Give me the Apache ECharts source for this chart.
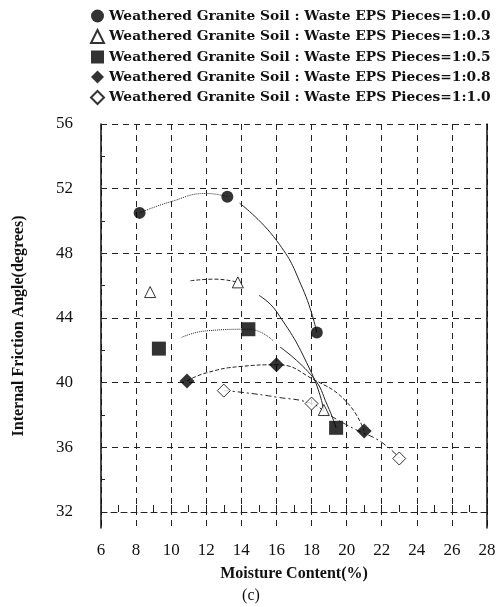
<!DOCTYPE html>
<html>
<head>
<meta charset="utf-8">
<script src="https://cdn.jsdelivr.net/npm/echarts@6/dist/echarts.min.js"></script>
<style>
  html, body { margin: 0; padding: 0; background: #fff; }
  #chart { width: 502px; height: 607px; }
</style>
</head>
<body>
<div id="chart"></div>
<script>
var names = [
    'Weathered Granite Soil : Waste EPS Pieces=1:0.0',
    'Weathered Granite Soil : Waste EPS Pieces=1:0.3',
    'Weathered Granite Soil : Waste EPS Pieces=1:0.5',
    'Weathered Granite Soil : Waste EPS Pieces=1:0.8',
    'Weathered Granite Soil : Waste EPS Pieces=1:1.0'
];
// measured points [moisture %, friction angle]
var pts00 = [[8.2, 50.5], [13.2, 51.5], [18.3, 43.1]];
var pts03 = [[8.8, 45.6], [13.8, 46.2], [18.7, 38.3]];
var pts05 = [[9.3, 42.1], [14.4, 43.3], [19.4, 37.2]];
var pts08 = [[10.9, 40.1], [16.0, 41.1], [21.0, 37.0]];
var pts10 = [[13.0, 39.5], [18.0, 38.7], [23.0, 35.3]];
// fitted curves
var fit00a = [[8.2, 50.5], [10, 51.2], [12, 51.7], [13.2, 51.5]];
var fit00b = [[13.9, 51.1], [16, 48.8], [17.5, 45.8], [18.3, 43.1]];
var fit03a = [[11.1, 46.3], [12.5, 46.4], [13.8, 46.2]];
var fit03b = [[15.0, 45.4], [16, 44.4], [18, 40.6], [18.7, 38.3]];
var fit05a = [[10.6, 42.8], [12, 43.2], [14.4, 43.3], [15.8, 42.6]];
var fit05b = [[16.2, 42.2], [18.1, 40.3], [18.9, 38.6], [19.4, 37.2]];
var fit08 = [[10.9, 40.1], [12, 40.6], [14, 41.0], [16, 41.1], [18.1, 40.2], [20.0, 38.8], [21.0, 37.0]];
var fit10 = [[13.0, 39.5], [14, 39.4], [16, 39.1], [18, 38.7], [19, 38.0], [20.5, 37.1], [22, 36.3], [23.2, 35.1]];
var yLabels = [32, 36, 40, 44, 48, 52, 56];
var yMinor = [34, 38, 42, 46, 50, 54];
var hGrid = [36, 40, 44, 48, 52, 56];

var serif = 'Liberation Serif';
var myChart = echarts.init(document.getElementById('chart'));

function fit(data, type) {
    return {
        type: 'line', data: data, smooth: true, showSymbol: false, silent: true,
        lineStyle: {color: '#222', width: 1, type: type}, z: 2
    };
}
function pts(name, data, symbol, size, filled) {
    return {
        name: name, type: 'scatter', data: data, symbol: symbol, symbolSize: size, z: 5,
        itemStyle: filled ? {color: '#000'} : {color: '#fff', borderColor: '#000', borderWidth: 1}
    };
}

var option = {
    animation: false,
    textStyle: {fontFamily: serif},
    grid: {left: 101, right: 15, top: 124, bottom: 79},
    legend: {
        orient: 'vertical', left: 85, top: 4, itemGap: 6, itemWidth: 13, itemHeight: 13,
        data: [
            {name: names[0], icon: 'circle'},
            {name: names[1], icon: 'triangle'},
            {name: names[2], icon: 'rect'},
            {name: names[3], icon: 'diamond'},
            {name: names[4], icon: 'diamond'}
        ],
        textStyle: {fontFamily: 'DejaVu Serif', fontSize: 13.8, lineHeight: 14, fontWeight: 'bold', color: '#111'}
    },
    xAxis: [{
        type: 'value', min: 6, max: 28, interval: 2,
        name: 'Moisture Content(%)', nameLocation: 'middle', nameGap: 38,
        nameTextStyle: {fontFamily: serif, fontSize: 16, fontWeight: 'bold', color: '#111'},
        axisLine: {show: false}, axisTick: {show: false},
        axisLabel: {fontSize: 17, color: '#111', margin: 14},
        splitLine: {show: true, lineStyle: {color: '#222', type: [6, 5], width: 1}}
    }, {
        type: 'value', min: 6, max: 28, interval: 1, position: 'bottom', offset: -16,
        axisLine: {show: true, lineStyle: {color: '#222', type: [6, 4]}},
        axisTick: {show: true, inside: true, length: 7, lineStyle: {color: '#222'}},
        axisLabel: {show: false}, splitLine: {show: false}
    }],
    yAxis: [{
        type: 'value', min: 31, max: 56,
        name: 'Internal Friction Angle(degrees)', nameLocation: 'middle', nameGap: 74,
        nameTextStyle: {fontFamily: serif, fontSize: 16, fontWeight: 'bold', color: '#111'},
        axisLine: {show: true, lineStyle: {color: '#111', width: 1.5}},
        axisTick: {show: true, inside: true, length: 4, customValues: yMinor, lineStyle: {color: '#222'}},
        axisLabel: {fontSize: 17, color: '#111', margin: 28, customValues: yLabels},
        splitLine: {show: false}
    }, {
        type: 'value', min: 31, max: 56, position: 'right',
        axisLine: {show: true, lineStyle: {color: '#111', width: 1.5}},
        axisTick: {show: false}, axisLabel: {show: false}, splitLine: {show: false}
    }],
    series: [
        {
            type: 'line', data: [], silent: true,
            markLine: {
                silent: true, symbol: 'none', label: {show: false},
                lineStyle: {color: '#222', type: [6, 5], width: 1},
                data: hGrid.map(function (v) { return {yAxis: v}; })
            }
        },
        fit(fit00a, 'dotted'), fit(fit00b, 'solid'),
        fit(fit03a, 'dashed'), fit(fit03b, 'solid'),
        fit(fit05a, 'dotted'), fit(fit05b, 'solid'),
        fit(fit08, 'dashed'), fit(fit10, [6, 3, 2, 3]),
        pts(names[0], pts00, 'circle', 12, true),
        pts(names[1], pts03, 'triangle', 11, false),
        pts(names[2], pts05, 'rect', 14, true),
        pts(names[3], pts08, 'diamond', 15, true),
        pts(names[4], pts10, 'diamond', 13, false)
    ],
    graphic: [{
        type: 'text', left: 'center', top: 588,
        style: {text: '(c)', font: '16px "Liberation Serif"', fill: '#111'}
    }]
};
myChart.setOption(option);
</script>
</body>
</html>
